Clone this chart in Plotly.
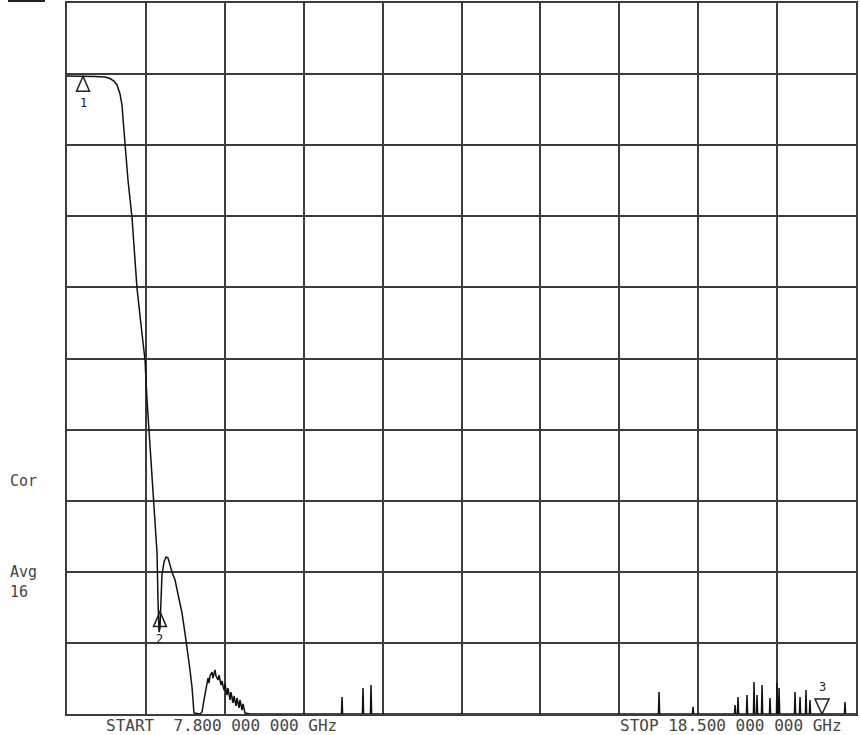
import plotly.graph_objects as go

# Main S21 trace (frequency in GHz, level in dB, 10 dB/div, ref line = 0 dB)
trace_freq = [7.800, 7.976, 8.180, 8.315, 8.383, 8.437, 8.478, 8.519, 8.546, 8.559,
              8.587, 8.627, 8.682, 8.722, 8.749, 8.804, 8.858, 8.885, 8.912, 8.939,
              8.966, 8.993, 9.021, 9.034, 9.041, 9.048, 9.061, 9.075, 9.088, 9.116,
              9.143, 9.170, 9.197, 9.224, 9.265, 9.305, 9.360, 9.400, 9.441, 9.468,
              9.495, 9.509, 9.522, 9.604, 9.631, 9.658, 9.685, 9.712, 9.726, 9.739,
              9.767, 9.780, 9.807, 9.821, 9.848, 9.862, 9.889, 9.902, 9.929, 9.943,
              9.970, 9.984, 10.011, 10.024, 10.051, 10.065, 10.092, 10.106, 10.133, 10.146,
              10.173, 10.187, 10.214, 10.282]
trace_db = [-0.27, -0.27, -0.34, -0.41, -0.62, -0.97, -1.53, -2.80, -4.35, -6.17,
            -10.11, -14.90, -20.24, -25.44, -30.09, -35.29, -40.21, -45.84, -50.06, -54.98,
            -59.90, -64.12, -67.36, -73.97, -77.48, -78.47, -77.91, -74.67, -70.45, -68.62,
            -67.92, -68.06, -69.05, -70.03, -71.16, -73.27, -75.80, -78.61, -81.42, -83.81,
            -86.20, -88.03, -89.86, -90.0, -89.72, -88.03, -86.35, -84.94, -85.64, -84.66,
            -84.10, -84.94, -83.81, -84.66, -85.22, -84.52, -85.92, -85.36, -86.63, -85.78,
            -87.33, -86.35, -88.03, -86.91, -88.44, -87.47, -88.87, -87.75, -89.15, -88.03,
            -89.44, -88.59, -89.86, -90.0]

# Noise floor (display bottom) and isolated noise spikes above it
floor_db = -90.0
spike_freq = [11.530, 11.814, 11.923, 15.829, 16.290, 16.860, 16.900, 17.022, 17.117,
              17.158, 17.226, 17.334, 17.429, 17.457, 17.673, 17.741, 17.822, 17.876, 18.351]
spike_db = [-87.61, -86.35, -85.92, -86.91, -89.0, -88.73, -87.61, -87.33, -85.50,
            -87.33, -85.92, -87.75, -85.64, -86.35, -86.91, -87.61, -86.63, -88.03, -88.31]
stop_freq = 18.5

# Markers
marker_freq = [8.017, 9.061, 18.039]
marker_db = [-0.3, -75.6, -90.0]
marker_label = ["1", "2", "3"]

x_start, x_stop = 7.8, 18.5
y_top, y_bottom = 10, -90
n_div = 10

# Build the floor + spikes part of the trace
fx, fy = [trace_freq[-1]], [floor_db]
for f, v in zip(spike_freq, spike_db):
    fx += [f - 0.008, f, f + 0.008]
    fy += [floor_db, v, floor_db]
fx.append(stop_freq)
fy.append(floor_db)

fig = go.Figure()
fig.add_trace(go.Scatter(x=trace_freq + fx, y=trace_db + fy, mode="lines",
                         line=dict(color="#111111", width=1.5), hoverinfo="skip"))

grid_col = "#3c3c3c"
fig.update_xaxes(range=[x_start, x_stop], dtick=(x_stop - x_start) / n_div, tick0=x_start,
                 showgrid=True, gridcolor=grid_col, gridwidth=2, showticklabels=False,
                 ticks="", zeroline=False, showline=True, linecolor=grid_col, linewidth=2,
                 mirror=True)
fig.update_yaxes(range=[y_bottom, y_top], dtick=(y_top - y_bottom) / n_div, tick0=y_bottom,
                 showgrid=True, gridcolor=grid_col, gridwidth=2, showticklabels=False,
                 ticks="", zeroline=False, showline=True, linecolor=grid_col, linewidth=2,
                 mirror=True)

shapes = []
annotations = []
font = dict(family="DejaVu Sans Mono", size=16, color="#444444")
side_font = dict(family="DejaVu Sans Mono", size=15, color="#444444")
for i, (f, v, lab) in enumerate(zip(marker_freq, marker_db, marker_label)):
    if i < 2:
        path = "M0,0 L-6.5,-15 L6.5,-15 Z"
        yshift = -27
    else:
        path = "M0,0 L-7,15 L7,15 Z"
        yshift = 27
    shapes.append(dict(type="path", xref="x", yref="y", xsizemode="pixel", ysizemode="pixel",
                       xanchor=f, yanchor=v, path=path,
                       line=dict(color="#222222", width=1.5)))
    annotations.append(dict(x=f, y=v, xref="x", yref="y", text=lab, showarrow=False,
                            yshift=yshift, font=dict(family="DejaVu Sans Mono", size=12,
                                                     color="#222222")))

annotations += [
    dict(x=-0.0748, y=0.3277, xref="paper", yref="paper", text="Cor", showarrow=False,
         xanchor="left", yanchor="middle", font=side_font),
    dict(x=-0.0748, y=0.186, xref="paper", yref="paper", text="Avg<br>16", showarrow=False,
         xanchor="left", yanchor="middle", align="left", font=side_font),
    dict(x=0.196, y=-0.016, xref="paper", yref="paper", text="START  7.800 000 000 GHz",
         showarrow=False, xanchor="center", yanchor="middle", font=font),
    dict(x=0.8416, y=-0.016, xref="paper", yref="paper", text="STOP 18.500 000 000 GHz",
         showarrow=False, xanchor="center", yanchor="middle", font=font),
]
shapes.append(dict(type="rect", xref="paper", yref="paper", x0=-0.0748, x1=-0.0279,
                   y0=1.0014, y1=1.006, fillcolor="#222222", line=dict(width=0)))

fig.update_layout(width=860, height=735,
                  margin=dict(l=67, r=4, t=3, b=21, autoexpand=False),
                  paper_bgcolor="white", plot_bgcolor="white", showlegend=False,
                  shapes=shapes, annotations=annotations)

fig.write_html("out.html", config={"displayModeBar": False},
               post_script="document.body.style.margin='0';"
                           "document.body.style.overflow='hidden';")
